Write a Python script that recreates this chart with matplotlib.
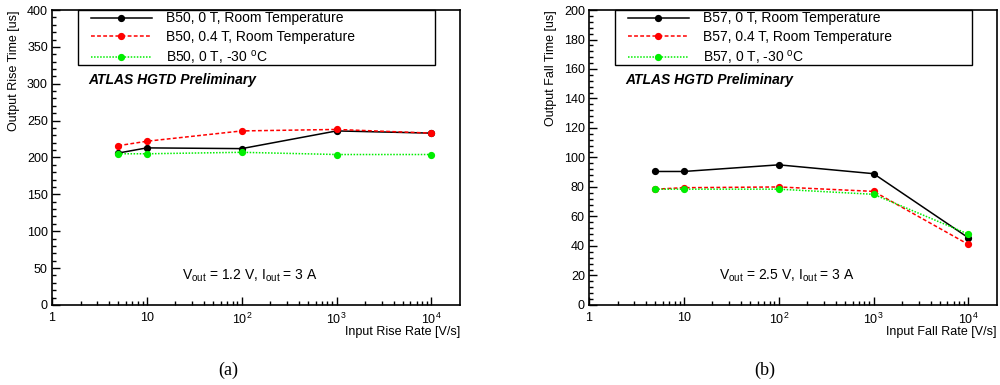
import matplotlib
matplotlib.use("Agg")
import matplotlib.pyplot as plt
from matplotlib.patches import Rectangle
from matplotlib.ticker import MultipleLocator, FixedLocator, NullFormatter

plt.rcParams['font.family'] = ['Liberation Sans', 'DejaVu Sans']
plt.rcParams['mathtext.fontset'] = 'custom'
plt.rcParams['mathtext.rm'] = 'Liberation Sans'
plt.rcParams['mathtext.it'] = 'Liberation Sans:italic'
plt.rcParams['mathtext.bf'] = 'Liberation Sans:bold'

# input rate [V/s]
rate = [5, 10, 100, 1000, 10000]

# (a) output rise time [us], board B50
rise_0T_room = [206, 213, 212, 236, 233]
rise_04T_room = [216, 222, 236, 238, 233]
rise_0T_cold = [205, 205, 207, 204, 204]

# (b) output fall time [us], board B57
fall_0T_room = [90.5, 90.5, 95, 89, 45.5]
fall_04T_room = [78.5, 79.5, 80, 77, 41]
fall_0T_cold = [78.5, 78.5, 78.5, 75, 48]

xtick_vals = [1, 10, 100, 1000, 10000]
xtick_labels = ['1', '10', r'$\mathrm{10^{2}}$', r'$\mathrm{10^{3}}$', r'$\mathrm{10^{4}}$']

panels = [
    dict(board='B50', ys=[rise_0T_room, rise_04T_room, rise_0T_cold], ymax=400, major=50, minor=10,
         ylabel='Output Rise Time [us]', xlabel='Input Rise Rate [V/s]',
         cond=r'V$_{\mathrm{out}}$ = 1.2 V, I$_{\mathrm{out}}$ = 3 A', tag='(a)', left=0.052),
    dict(board='B57', ys=[fall_0T_room, fall_04T_room, fall_0T_cold], ymax=200, major=20, minor=4,
         ylabel='Output Fall Time [us]', xlabel='Input Fall Rate [V/s]',
         cond=r'V$_{\mathrm{out}}$ = 2.5 V, I$_{\mathrm{out}}$ = 3 A', tag='(b)', left=0.589),
]

styles = [
    dict(color='black', ls='-', lw=1.1),
    dict(color='#ff0000', ls=(0, (2.5, 1.5)), lw=1.1),
    dict(color='#00ee00', ls=(0, (1, 1)), lw=1.1),
]

fig = plt.figure(figsize=(10, 3.85), dpi=100)

for p in panels:
    ax = fig.add_axes([p['left'], 0.208, 0.408, 0.766])
    labels = [p['board'] + ', 0 T, Room Temperature',
              p['board'] + ', 0.4 T, Room Temperature',
              p['board'] + r', 0 T, -30 $^{\mathrm{o}}$C']
    for y, st, lab in zip(p['ys'], styles, labels):
        ax.plot(rate, y, color=st['color'], ls=st['ls'], lw=st['lw'],
                marker='o', ms=4.2, mec=st['color'], mfc=st['color'], label=lab)

    ax.set_xscale('log')
    ax.set_xlim(1, 2e4)
    ax.set_ylim(0, p['ymax'])
    ax.xaxis.set_major_locator(FixedLocator(xtick_vals))
    ax.set_xticklabels(xtick_labels)
    ax.xaxis.set_minor_locator(FixedLocator([m * d for d in [1, 10, 100, 1000] for m in range(2, 10)]))
    ax.xaxis.set_minor_formatter(NullFormatter())
    ax.yaxis.set_major_locator(MultipleLocator(p['major']))
    ax.yaxis.set_minor_locator(MultipleLocator(p['minor']))
    ax.tick_params(which='both', direction='in', top=False, right=False, labelsize=9, width=1)
    ax.tick_params(which='major', length=6)
    ax.tick_params(which='minor', length=3)
    ax.tick_params(axis='x', pad=5)
    ax.tick_params(axis='y', pad=3)
    for s in ax.spines.values():
        s.set_linewidth(1.2)

    ax.set_ylabel(p['ylabel'], fontsize=9, loc='top')
    ax.yaxis.set_label_coords(-0.078, 1.0)
    ax.set_xlabel(p['xlabel'], fontsize=9, loc='right')
    ax.xaxis.set_label_coords(1.0, -0.072)

    ax.add_patch(Rectangle((0.064, 0.8136), 0.875, 0.1864, transform=ax.transAxes,
                           fill=False, lw=1, ec='black', zorder=5, clip_on=False))
    ax.legend(loc='upper left', bbox_to_anchor=(0.095, 0.995), frameon=False, fontsize=10,
              borderpad=0, handlelength=4.4, handletextpad=1.0, labelspacing=0.3, numpoints=1,
              borderaxespad=0)

    ax.text(0.088, 0.763, 'ATLAS HGTD Preliminary', transform=ax.transAxes, fontsize=10,
            fontweight='bold', fontstyle='italic', va='center', ha='left')
    ax.text(0.485, 0.098, p['cond'], transform=ax.transAxes, fontsize=10, ha='center', va='center')

    fig.text(p['left'] + 0.176, 0.039, p['tag'], family='Liberation Serif', fontsize=13,
             ha='center', va='center')

fig.savefig('out.png', dpi=100)
